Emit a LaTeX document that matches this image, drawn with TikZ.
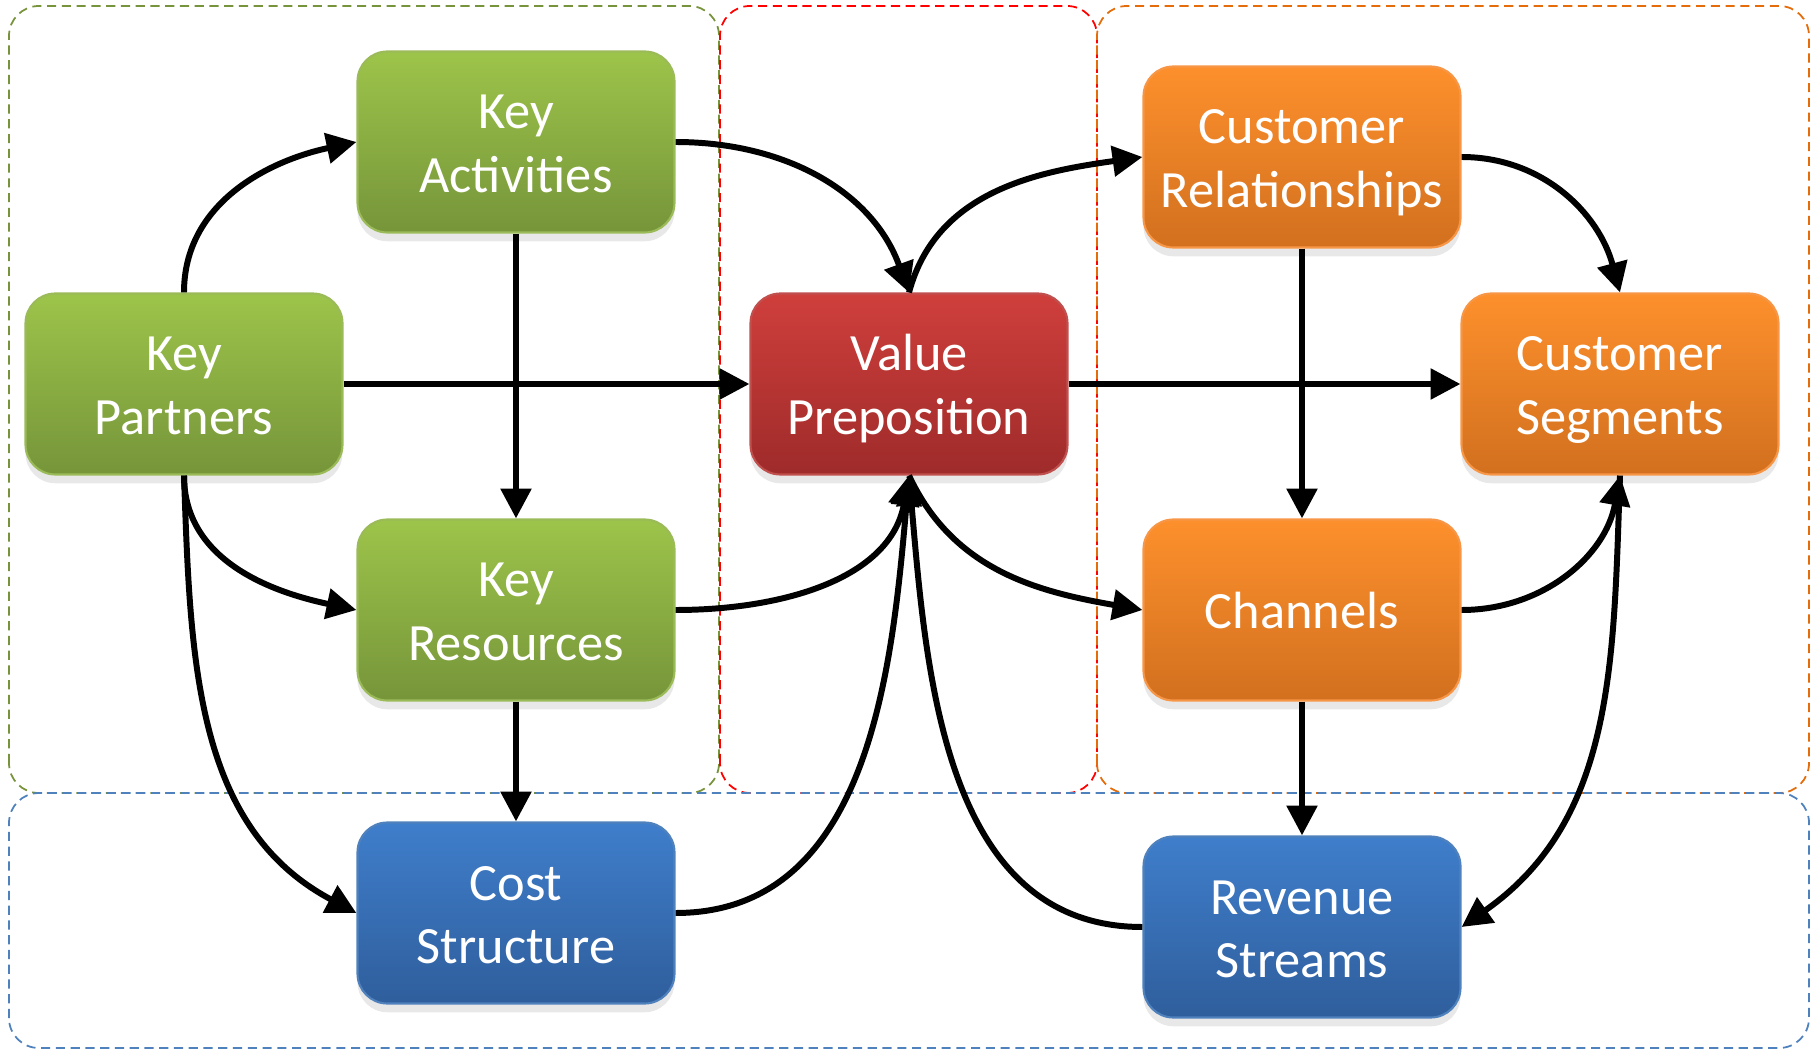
\documentclass[tikz,border=0pt]{standalone}
\usepackage{fontspec}
\setmainfont{Carlito}
\usetikzlibrary{arrows.meta,shadows}

\definecolor{grnTop}{HTML}{9DC44A}
\definecolor{grnBot}{HTML}{76953A}
\definecolor{grnLine}{HTML}{9BBB59}
\definecolor{redTop}{HTML}{CF3F3C}
\definecolor{redBot}{HTML}{9E2B2A}
\definecolor{redLine}{HTML}{C0504D}
\definecolor{orgTop}{HTML}{FD902C}
\definecolor{orgBot}{HTML}{D2701F}
\definecolor{orgLine}{HTML}{F79646}
\definecolor{bluTop}{HTML}{3F7ECB}
\definecolor{bluBot}{HTML}{2F5E9C}
\definecolor{bluLine}{HTML}{4F81BD}
\definecolor{grnDash}{HTML}{77933C}
\definecolor{redDash}{HTML}{FF0000}
\definecolor{orgDash}{HTML}{E46C0A}
\definecolor{bluDash}{HTML}{4F81BD}

\tikzset{
	block/.style={rounded corners=8.5pt, minimum width=3.17cm, minimum height=1.81cm,
		text=white, align=center, font=\fontsize{14.9}{18.2}\selectfont, line width=0.6pt,
		text height=31pt, text depth=2pt,
		drop shadow={shadow xshift=0pt, shadow yshift=-2.5pt, opacity=0.18}},
	oneline/.style={text height=12.3pt},
	greenblock/.style={block, draw=grnLine, top color=grnTop, bottom color=grnBot},
	redblock/.style={block, draw=redLine, top color=redTop, bottom color=redBot},
	orangeblock/.style={block, draw=orgLine, top color=orgTop, bottom color=orgBot},
	blueblock/.style={block, draw=bluLine, top color=bluTop, bottom color=bluBot},
	link/.style={line width=1.7pt, -{Triangle[length=8.5pt,width=8.5pt]}},
	zone/.style={rounded corners=8.5pt, line width=0.5pt, dash pattern=on 2.6pt off 1.6pt}
}

\begin{document}
\begin{tikzpicture}
	\useasboundingbox (0,0) rectangle (18.18,10.5);

	% dashed zones
	\draw[zone, grnDash] (0.09,2.57) rectangle (7.19,10.44);
	\draw[zone, redDash] (7.20,2.57) rectangle (10.97,10.44);
	\draw[zone, orgDash] (10.97,2.57) rectangle (18.09,10.44);
	\draw[zone, bluDash] (0.09,0.02) rectangle (18.09,2.57);

	% blocks
	\node[greenblock] (partners) at (1.84,6.66) {Key\\Partners};
	\node[greenblock] (activities) at (5.16,9.08) {Key\\Activities};
	\node[greenblock] (resources) at (5.16,4.40) {Key\\Resources};
	\node[blueblock] (cost) at (5.16,1.37) {Cost\\Structure};
	\node[redblock] (value) at (9.09,6.66) {Value\\Preposition};
	\node[orangeblock] (relations) at (13.02,8.93) {Customer\\Relationships};
	\node[orangeblock] (segments) at (16.20,6.66) {Customer\\Segments};
	\node[orangeblock, oneline] (channels) at (13.02,4.40) {Channels};
	\node[blueblock] (revenue) at (13.02,1.23) {Revenue\\Streams};

	% straight links
	\draw[link] (partners.east) -- (value.west);
	\draw[link] (value.east) -- (segments.west);
	\draw[link] (activities.south) -- (resources.north);
	\draw[link] (resources.south) -- (cost.north);
	\draw[link] (relations.south) -- (channels.north);
	\draw[link] (channels.south) -- (revenue.north);

	% curved links
	\draw[link] (partners.north) to[out=90,in=192] (activities.west);
	\draw[link] (partners.south) to[out=-90,in=168] (resources.west);
	\draw[link] (partners.south) to[out=-88,in=152] (cost.west);
	\draw[link] (activities.east) to[out=0,in=110] (value.north);
	\draw[link] (value.north) to[out=75,in=188] (relations.west);
	\draw[link] (resources.east) to[out=0,in=-100] (value.south);
	\draw[link] (cost.east) to[out=0,in=-95] (value.south);
	\draw[link] (revenue.west) to[out=180,in=-85] (value.south);
	\draw[link] (value.south) to[out=-65,in=170] (channels.west);
	\draw[link] (relations.east) to[out=0,in=105] (segments.north);
	\draw[link] (channels.east) to[out=0,in=-100] (segments.south);
	\draw[link] (segments.south) to[out=-92,in=35] (revenue.east);
\end{tikzpicture}
\end{document}
